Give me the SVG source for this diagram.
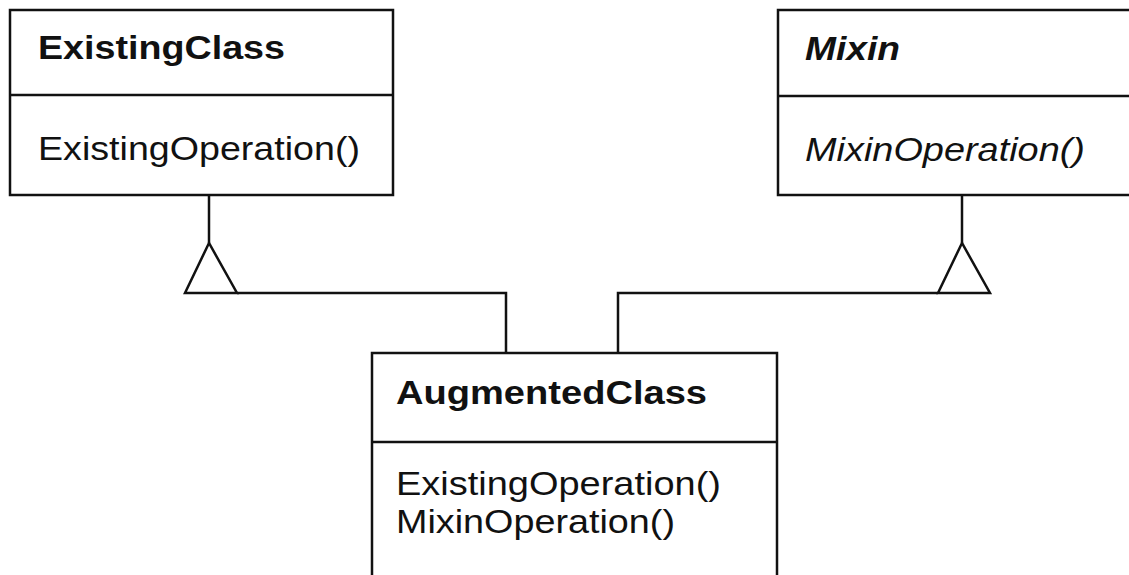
<svg xmlns="http://www.w3.org/2000/svg" width="1129" height="575" viewBox="0 0 1129 575">
  <style>
    .box { fill: #fff; stroke: #111; stroke-width: 2.5; }
    .div { stroke: #111; stroke-width: 2.5; }
    .edge { fill: none; stroke: #111; stroke-width: 2.5; }
    .tri { fill: #fff; stroke: #111; stroke-width: 2.5; stroke-linejoin: miter; }
    text { font-family: "Liberation Sans", Arial, sans-serif; font-size: 33px; fill: #111; }
    .title { font-weight: bold; }
    .abs { font-style: italic; }
  </style>
  <rect width="1129" height="575" fill="#fff"/>
  <g id="ExistingClass">
    <rect class="box" x="10" y="10" width="383" height="185"/>
    <line class="div" x1="10" y1="95" x2="393" y2="95"/>
    <text class="title" x="38" y="59" textLength="247" lengthAdjust="spacingAndGlyphs">ExistingClass</text>
    <text x="38" y="160" textLength="322" lengthAdjust="spacingAndGlyphs">ExistingOperation()</text>
  </g>
  <g id="Mixin">
    <rect class="box" x="778" y="10" width="370" height="185"/>
    <line class="div" x1="778" y1="96" x2="1148" y2="96"/>
    <text class="title abs" x="805" y="60" textLength="95" lengthAdjust="spacingAndGlyphs">Mixin</text>
    <text class="abs" x="805" y="161" textLength="280" lengthAdjust="spacingAndGlyphs">MixinOperation()</text>
  </g>
  <g id="AugmentedClass">
    <rect class="box" x="372" y="353" width="405" height="240"/>
    <line class="div" x1="372" y1="442" x2="777" y2="442"/>
    <text class="title" x="396" y="404" textLength="311" lengthAdjust="spacingAndGlyphs">AugmentedClass</text>
    <text x="396" y="495" textLength="325" lengthAdjust="spacingAndGlyphs">ExistingOperation()</text>
    <text x="396" y="533" textLength="279" lengthAdjust="spacingAndGlyphs">MixinOperation()</text>
  </g>
  <g id="connectors">
    <line class="edge" x1="209" y1="195" x2="209" y2="243"/>
    <polygon class="tri" points="209,243 185,293 237,293"/>
    <polyline class="edge" points="237,293 506,293 506,353"/>
    <line class="edge" x1="962" y1="195" x2="962" y2="243"/>
    <polygon class="tri" points="962,243 938,293 990,293"/>
    <polyline class="edge" points="938,293 618,293 618,353"/>
  </g>
</svg>
